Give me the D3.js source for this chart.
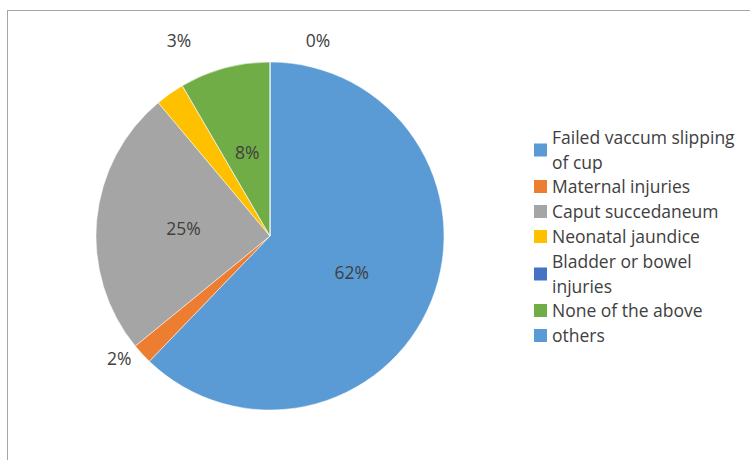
<!DOCTYPE html>
<html><head><meta charset="utf-8">
<script src="https://cdn.jsdelivr.net/npm/d3@7"></script>
<style>body{margin:0;background:#fff;}svg{display:block;}</style>
</head><body>
<script>
const categories = ["Failed vaccum slipping of cup","Maternal injuries","Caput succedaneum","Neonatal jaundice","Bladder or bowel injuries","None of the above","others"];
const values = [62.2, 1.9, 24.8, 2.7, 0, 8.4, 0];
const colors = ["#5B9BD5","#ED7D31","#A5A5A5","#FFC000","#4472C4","#70AD47","#5B9BD5"];
const legendLines = [["Failed vaccum slipping","of cup"],["Maternal injuries"],["Caput succedaneum"],["Neonatal jaundice"],["Bladder or bowel","injuries"],["None of the above"],["others"]];

const W = 750, H = 460;
const svg = d3.select("body").append("svg").attr("width", W).attr("height", H);
svg.append("rect").attr("x", 7.5).attr("y", 10.5).attr("width", W).attr("height", H)
  .attr("fill", "#fff").attr("stroke", "#a6a6a6").attr("stroke-width", 1);

const cx = 270, cy = 236, r = 174;
const pie = d3.pie().sort(null).value(d => d)(values);
const arc = d3.arc().innerRadius(0).outerRadius(r);
const g = svg.append("g").attr("transform", `translate(${cx},${cy})`);
g.selectAll("path").data(pie).join("path")
  .attr("d", arc).attr("fill", (d, i) => colors[i])
  .attr("stroke", "#fff").attr("stroke-width", 0.5);

// data labels: radius fraction per slice (label placement only)
const labelFont = "'Open Sans', sans-serif";
function lbl(i, rf, dx, dy) {
  const a = d3.arc().innerRadius(r * rf).outerRadius(r * rf);
  const c = a.centroid(pie[i]);
  svg.append("text").attr("x", cx + c[0] + dx).attr("y", cy + c[1] + dy).attr("text-anchor", "middle")
    .attr("dominant-baseline", "central")
    .attr("font-family", labelFont).attr("font-size", 17.5).attr("fill", "#404040")
    .text(Math.round(values[i]) + "%");
}
lbl(0, 0.5, 1, 3);
lbl(2, 0.5, 0, 0);
lbl(5, 0.5, 0, 0);
lbl(1, 1.1, -10, -8);
lbl(3, 1.1, 19, -39);
lbl(6, 1.1, 48, -5);

// legend
const lg = svg.append("g");
let y = 137;
const lh = 25;
legendLines.forEach((lines, i) => {
  const n = lines.length;
  const mid = y + (n - 1) * lh / 2;
  lg.append("rect").attr("x", 534).attr("y", mid - 6).attr("width", 13).attr("height", 13)
    .attr("fill", colors[i]);
  lines.forEach((t, j) => {
    lg.append("text").attr("x", 552).attr("y", y + j * lh)
      .attr("dominant-baseline", "central")
      .attr("font-family", labelFont).attr("font-size", 17.5).attr("fill", "#404040")
      .text(t);
  });
  y += n * lh + (n > 1 ? -1 : 0);
});
</script>
</body></html>
